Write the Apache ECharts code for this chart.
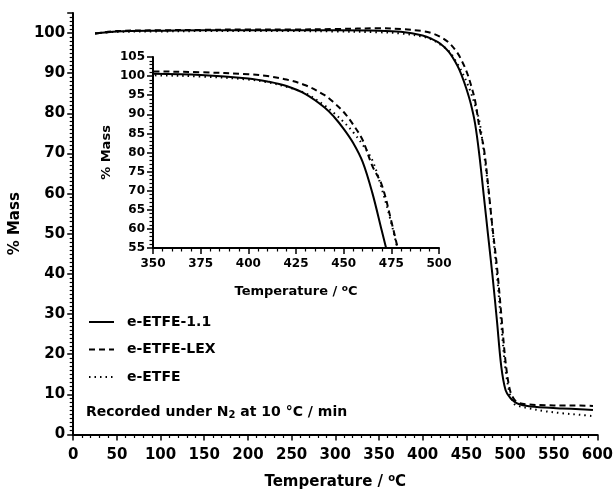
<!DOCTYPE html>
<html>
<head>
<meta charset="utf-8">
<script src="https://cdn.jsdelivr.net/npm/echarts@6/dist/echarts.min.js"></script>
<style>
  html, body { margin: 0; padding: 0; background: #fff; }
  #main { width: 616px; height: 495px; }
</style>
</head>
<body>
<div id="main"></div>
<script>
// temperature grid (°C), shared by the three runs
var temps = [25, 50, 100, 150, 200, 250, 300, 350, 375, 400, 410, 420, 430, 440, 445, 450,
  455, 460, 465, 470, 475, 480, 485, 490, 495, 500, 505, 510, 520, 540, 560, 580, 595];
// % mass
var massE11 = [99.9, 100.4, 100.6, 100.7, 100.7, 100.7, 100.7, 100.6, 100.3, 99.4, 98.6, 97.4, 95.3, 91.8, 89.3, 86.2,
  82.5, 77.5, 69.5, 59.5, 49.5, 39.5, 28.5, 17, 11, 9.2, 8.2, 7.6, 7.1, 6.7, 6.5, 6.3, 6.1];
var massLEX = [99.9, 100.5, 100.7, 100.8, 100.9, 100.9, 101.0, 101.2, 101.0, 100.5, 100.0, 99.1, 97.6, 95.0, 93.0, 90.6,
  87.3, 83.2, 76.5, 71.5, 62, 51.5, 42, 30, 18, 11, 8.7, 7.9, 7.5, 7.3, 7.2, 7.2, 7.1];
var massE = [99.9, 100.3, 100.4, 100.5, 100.5, 100.5, 100.4, 100.2, 99.9, 99.1, 98.4, 97.2, 95.5, 92.3, 90.3, 88.0,
  85.3, 82.0, 78, 70.5, 61.5, 51, 40, 27.5, 16, 10, 7.6, 7.1, 6.6, 5.8, 5.3, 4.9, 4.6];

var names = ['e-ETFE-1.1', 'e-ETFE-LEX', 'e-ETFE'];
var styles = [
  { type: 'solid', width: 2 },
  { type: [6, 4], width: 2 },
  { type: [1.5, 4], width: 2 }
];
var masses = [massE11, massLEX, massE];

var font = 'DejaVu Sans';

function pairs(m) {
  var res = [];
  for (var i = 0; i < temps.length; i++) {
    res.push([temps[i], m[i]]);
  }
  return res;
}

function axisCommon(labelSize) {
  return {
    axisLine: { show: true, onZero: false, lineStyle: { color: '#000', width: 2 } },
    axisTick: { show: true, inside: false, length: 6, lineStyle: { color: '#000', width: 1.5 } },
    minorTick: { show: true, length: 3.5, lineStyle: { color: '#000', width: 1.2 } },
    splitLine: { show: false },
    axisLabel: { color: '#000', fontFamily: font, fontWeight: 'bold', fontSize: labelSize }
  };
}

var chart = echarts.init(document.getElementById('main'));

var series = [];
for (var k = 0; k < 3; k++) {
  // main plot
  series.push({
    name: names[k], type: 'line', xAxisIndex: 0, yAxisIndex: 0,
    data: pairs(masses[k]), symbol: 'none', smooth: 0.35,
    lineStyle: { color: '#000', type: styles[k].type, width: styles[k].width },
    itemStyle: { color: '#000' },
    animation: false
  });
  // inset
  series.push({
    name: names[k], type: 'line', xAxisIndex: 1, yAxisIndex: 1,
    data: pairs(masses[k]), symbol: 'none', smooth: 0.35, clip: true,
    lineStyle: { color: '#000', type: styles[k].type, width: styles[k].width },
    itemStyle: { color: '#000' },
    animation: false
  });
}

var xMain = axisCommon(15);
xMain = Object.assign(xMain, {
  type: 'value', gridIndex: 0, min: 0, max: 600, interval: 50,
  name: 'Temperature / {sup|o}C', nameLocation: 'middle', nameGap: 39,
  nameTextStyle: {
    color: '#000', fontFamily: font, fontWeight: 'bold', fontSize: 15,
    rich: { sup: { fontFamily: font, fontWeight: 'bold', fontSize: 10, verticalAlign: 'top', padding: [0, 0, 8, 0] } }
  }
});
xMain.minorTick.splitNumber = 5;
xMain.axisLabel.margin = 13;

var yMain = axisCommon(15);
yMain = Object.assign(yMain, {
  type: 'value', gridIndex: 0, min: 0, max: 105, interval: 10,
  name: '% Mass', nameLocation: 'middle', nameGap: 43,
  nameTextStyle: { color: '#000', fontFamily: font, fontWeight: 'bold', fontSize: 15 }
});
yMain.minorTick.splitNumber = 10;
yMain.axisLabel.margin = 8;
yMain.axisLabel.showMaxLabel = false;

var xIn = axisCommon(12);
xIn = Object.assign(xIn, {
  type: 'value', gridIndex: 1, min: 350, max: 500, interval: 25,
  name: 'Temperature / {sup|o}C', nameLocation: 'middle', nameGap: 36,
  nameTextStyle: {
    color: '#000', fontFamily: font, fontWeight: 'bold', fontSize: 13,
    rich: { sup: { fontFamily: font, fontWeight: 'bold', fontSize: 9, verticalAlign: 'top', padding: [0, 0, 7, 0] } }
  }
});
xIn.minorTick.splitNumber = 5;
xIn.axisLabel.margin = 10;

var yIn = axisCommon(12);
yIn = Object.assign(yIn, {
  type: 'value', gridIndex: 1, min: 55, max: 105, interval: 5,
  name: '% Mass', nameLocation: 'middle', nameGap: 40,
  nameTextStyle: { color: '#000', fontFamily: font, fontWeight: 'bold', fontSize: 13 }
});
yIn.minorTick.splitNumber = 5;
yIn.axisLabel.margin = 8;

var option = {
  backgroundColor: '#fff',
  animation: false,
  grid: [
    { left: 72, top: 13, right: 14, bottom: 55 },
    { left: 153, top: 57, width: 286, height: 191 }
  ],
  xAxis: [xMain, xIn],
  yAxis: [yMain, yIn],
  legend: {
    data: names,
    orient: 'vertical',
    left: 88, top: 315,
    padding: 0,
    itemWidth: 25, itemHeight: 14, itemGap: 13.5,
    selectedMode: false,
    itemStyle: { color: 'rgba(0,0,0,0)', borderWidth: 0, opacity: 0 },
    textStyle: { color: '#000', fontFamily: font, fontWeight: 'bold', fontSize: 14, padding: [0, 0, 0, 8] }
  },
  graphic: [{
    type: 'text', left: 86, top: 405,
    style: {
      text: 'Recorded under N{sub|2} at 10 °C / min',
      fill: '#000',
      font: 'bold 14px "DejaVu Sans"',
      rich: { sub: { fontFamily: font, fontWeight: 'bold', fontSize: 10, verticalAlign: 'bottom', padding: [6, 0, 0, 0] } }
    }
  }],
  series: series
};

chart.setOption(option);
</script>
</body>
</html>
